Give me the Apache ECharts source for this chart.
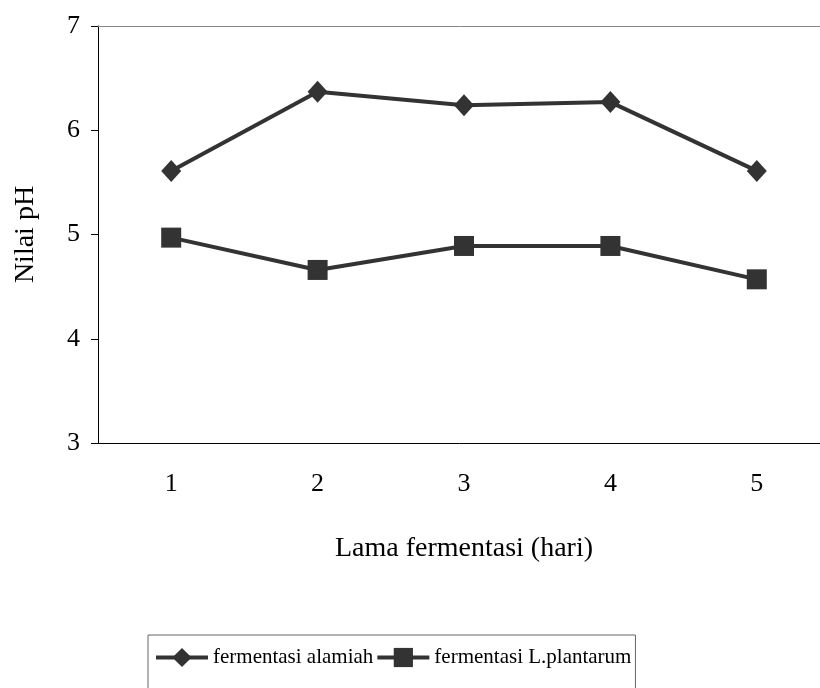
<!DOCTYPE html>
<html>
<head>
<meta charset="utf-8">
<script src="https://cdn.jsdelivr.net/npm/echarts@6/dist/echarts.min.js"></script>
<style>
  html, body { margin: 0; padding: 0; background: #fff; }
  #chart { width: 820px; height: 688px; }
</style>
</head>
<body>
<div id="chart"></div>
<script>
// lama fermentasi (hari)
var days = ['1', '2', '3', '4', '5'];
// nilai pH
var alamiah = [5.61, 6.37, 6.24, 6.27, 5.61];
var plantarum = [4.97, 4.66, 4.89, 4.89, 4.57];

var font = 'Liberation Serif, Times New Roman, serif';
var ink = '#333333';

var chart = echarts.init(document.getElementById('chart'));
var option = {
    animation: false,
    textStyle: { fontFamily: font },
    grid: { left: 98, width: 732, top: 26, height: 417, outerBoundsMode: 'none', containLabel: false },
    legend: {
        left: 148,
        top: 635,
        padding: [12, 4, 40, 6],
        borderColor: '#666',
        borderWidth: 1,
        itemWidth: 52,
        itemHeight: 24,
        itemGap: 2,
        lineStyle: { width: 4 },
        textStyle: { fontFamily: font, fontSize: 21, color: '#000' },
        data: ['fermentasi alamiah', 'fermentasi L.plantarum']
    },
    xAxis: [{
        type: 'category',
        data: days,
        boundaryGap: true,
        name: 'Lama fermentasi (hari)',
        nameLocation: 'middle',
        nameGap: 92,
        nameTextStyle: { fontFamily: font, fontSize: 28, color: '#000' },
        axisLine: { lineStyle: { color: '#000', width: 1 } },
        axisTick: { length: 6, lineStyle: { color: '#000' } },
        axisLabel: { margin: 28, fontFamily: font, fontSize: 26, color: '#000' },
        splitLine: { show: false }
    }, {
        type: 'category',
        position: 'top',
        data: days,
        axisLine: { lineStyle: { color: '#888', width: 1 } },
        axisTick: { show: false },
        axisLabel: { show: false }
    }],
    yAxis: {
        type: 'value',
        min: 3,
        max: 7,
        interval: 1,
        name: 'Nilai pH',
        nameLocation: 'middle',
        nameGap: 58,
        nameTextStyle: { fontFamily: font, fontSize: 28, color: '#000' },
        axisLine: { show: true, lineStyle: { color: '#000', width: 1 } },
        axisTick: { show: true, length: 7, lineStyle: { color: '#000' } },
        axisLabel: { margin: 18, fontFamily: font, fontSize: 26, color: '#000' },
        splitLine: { show: false }
    },
    series: [{
        name: 'fermentasi alamiah',
        type: 'line',
        data: alamiah,
        symbol: 'diamond',
        symbolSize: [20, 22],
        lineStyle: { color: ink, width: 4 },
        itemStyle: { color: ink }
    }, {
        name: 'fermentasi L.plantarum',
        type: 'line',
        data: plantarum,
        symbol: 'rect',
        symbolSize: 20,
        lineStyle: { color: ink, width: 4 },
        itemStyle: { color: ink }
    }]
};
chart.setOption(option);
</script>
</body>
</html>
